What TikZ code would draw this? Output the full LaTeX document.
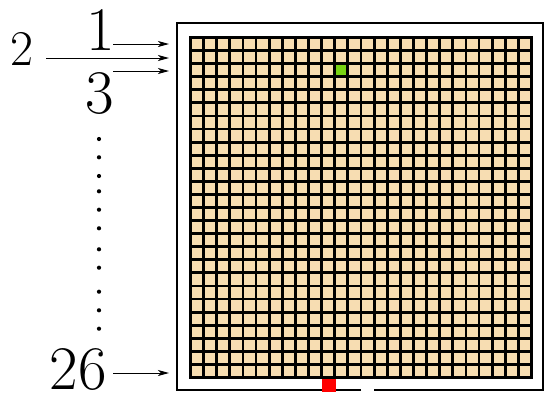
\documentclass[tikz,border=0pt]{standalone}
\usetikzlibrary{arrows.meta}
\definecolor{cellfill}{RGB}{247,221,178}
\definecolor{greencell}{RGB}{120,210,20}
\begin{document}
\begin{tikzpicture}[x=1pt,y=-1pt,
  lab/.style={inner sep=0pt,anchor=base,font=\rmfamily\fontsize{62}{62}\selectfont},
  labsmall/.style={inner sep=0pt,anchor=base,font=\rmfamily\fontsize{50}{50}\selectfont},
  arr/.style={-{Stealth[length=11pt,width=6pt,inset=3pt]},line width=1pt},
  border/.style={line width=2pt,black},
  gridline/.style={line width=2.8pt,black,line cap=rect},
  dotmark/.style={fill=black,draw=none}]
\useasboundingbox (0,0) rectangle (544,392);
\begin{scope}
\clip (0,0) rectangle (544,392);
% outer border with a gap in the bottom side
\draw[border] (361,390) -- (177,390) -- (177,23) -- (543,23) -- (543,390) -- (374,390);
% grid
\fill[cellfill] (189,36) rectangle (533,379);
\def\gx{190.5}\def\gy{37.5}\def\px{13.115}\def\py{13.077}
\fill[greencell] ({\gx+11*\px},{\gy+2*\py}) rectangle ({\gx+12*\px},{\gy+3*\py});
\foreach \i in {0,...,26} {
  \draw[gridline] ({\gx+\i*\px},\gy) -- ({\gx+\i*\px},{\gy+26*\py});
  \draw[gridline] (\gx,{\gy+\i*\py}) -- ({\gx+26*\px},{\gy+\i*\py});
}
% red cell below the grid
\fill[red] (322,379) rectangle (336,392);
\end{scope}
% labels
\node[lab] (l1) at (101,50) {1};
\node[labsmall] (l2) at (22,65) {2};
\node[lab] (l3) at (100,113) {3};
\node[lab] (l26) at (78,389) {26};
% arrows
\coordinate (s1) at (113,44);  \coordinate (t1) at (169,44);
\coordinate (s2) at (46,58);   \coordinate (t2) at (169,58);
\coordinate (s3) at (113,71);  \coordinate (t3) at (169,71);
\coordinate (s26) at (113,373); \coordinate (t26) at (169,373);
\draw[arr] (s1) -- (t1);
\draw[arr] (s2) -- (t2);
\draw[arr] (s3) -- (t3);
\draw[arr] (s26) -- (t26);
% vertical dots
\foreach \y in {139,157.3,176,191.3,209.7,228.3,249.3,267.7,291.7,310.3,328.7}
  \fill[dotmark] (99,\y) circle (2.1pt);
\end{tikzpicture}
\end{document}
